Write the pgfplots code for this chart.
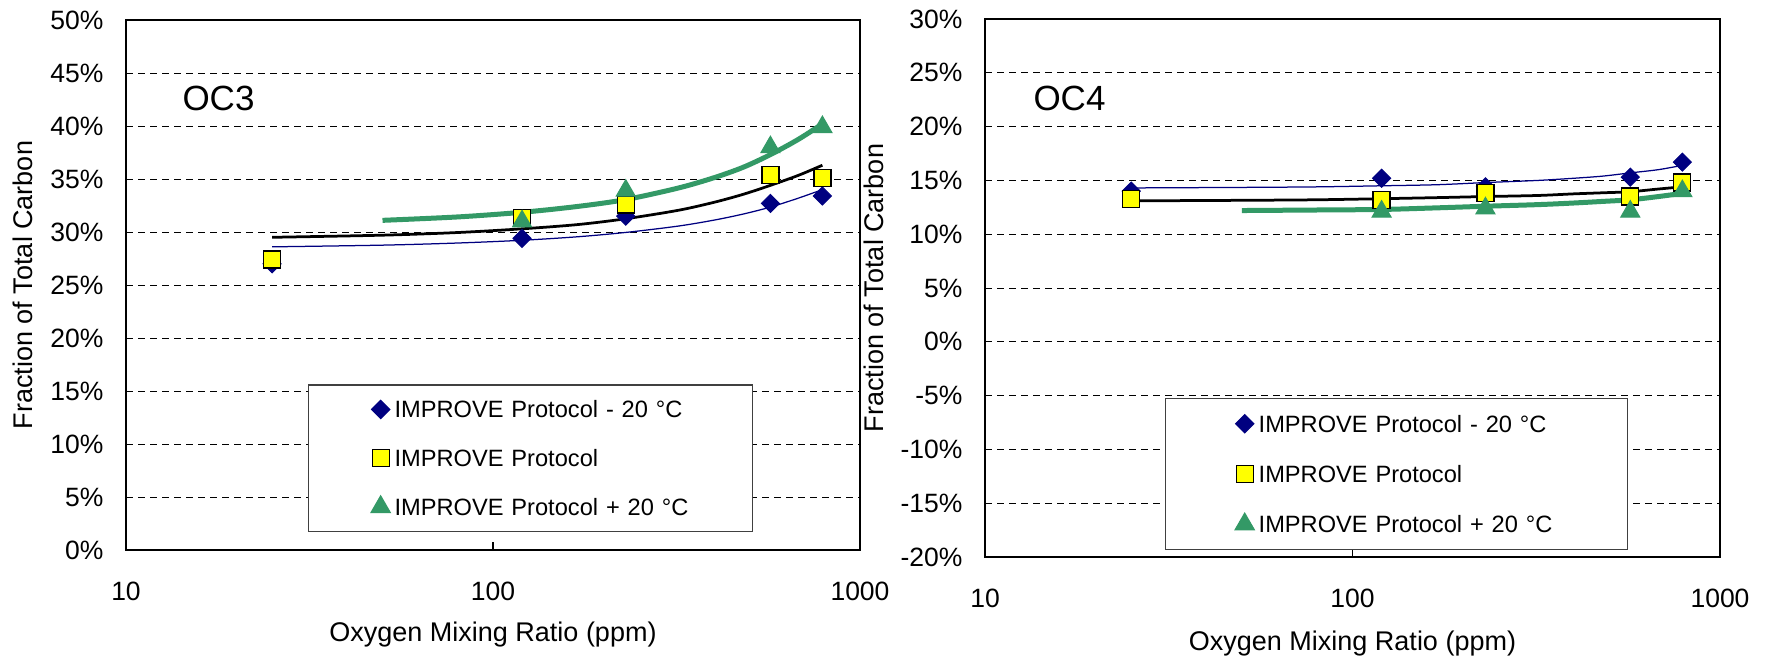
\documentclass[border=0pt]{standalone}
\usepackage{pgfplots}
\pgfplotsset{compat=1.18}
\usepackage{fontspec}
\setmainfont{Liberation Sans}
\definecolor{navy}{HTML}{000080}
\definecolor{exgreen}{HTML}{339966}
\definecolor{exyellow}{HTML}{FFFF00}

\begin{document}
\begin{tikzpicture}
\path[use as bounding box] (0pt,0pt) rectangle (707.2pt,262.8pt);

% ---------------- OC3 ----------------
\begin{axis}[
  scale only axis,
  xmode=log, xmin=10, xmax=1000,
  xtick={10,100,1000}, xticklabels={10,100,1000},
  xminorticks=false, yminorticks=false,
  tick align=inside, major tick length=3.2pt,
  xtick pos=bottom, ytick pos=left,
  ytick style={draw=none},
  xtick style={black, line width=0.5pt},
  axis line style={black, line width=0.6pt},
  ymajorgrids,
  grid style={black, line width=0.4pt, dash pattern=on 2.8pt off 2pt},
  tick label style={font=\fontsize{10.6}{12}\selectfont},
  yticklabel style={anchor=east, inner sep=0pt, xshift=-8.8pt},
  xticklabel style={anchor=center, inner sep=0pt, yshift=-16.4pt},
  label style={font=\fontsize{10.8}{13}\selectfont},
  xlabel={Oxygen Mixing Ratio (ppm)},
  ylabel={Fraction of Total Carbon},
  at={(50.4pt,42.8pt)}, anchor=south west,
  width=293.6pt, height=212pt,
  ymin=0, ymax=50,
  ytick={0,5,10,15,20,25,30,35,40,45,50},
  yticklabels={0\%,5\%,10\%,15\%,20\%,25\%,30\%,35\%,40\%,45\%,50\%},
  xlabel style={at={(axis description cs:0.5,-0.1604)}, anchor=center},
  ylabel style={at={(axis description cs:-0.1403,0.5)}, anchor=center},
  legend image code/.code={
    \path[draw=none, fill=none] (0pt,0pt) -- (34.4pt,0pt);
    \draw[#1] plot coordinates {(28.8pt,0pt)};
  },
  legend style={at={(0.248,0.034)}, anchor=south west, draw=black!75, line width=0.5pt, fill=white,
    inner xsep=0pt, inner ysep=0pt, row sep=0pt, column sep=0pt, cells={anchor=west},
    nodes={inner sep=0pt, text width=143.2pt, text height=13.13pt, text depth=6.37pt, font=\fontsize{9.45}{11}\selectfont}},
]
\addplot[only marks, navy, mark=square*, mark size=2.55pt, mark options={rotate=45, fill=navy, draw=navy}]
  coordinates {(25,27.0) (120,29.4) (230,31.5) (570,32.7) (790,33.4)};
\addlegendentry{IMPROVE Protocol - 20 °C}
\addplot[only marks, black, mark=square*, mark size=3.4pt, mark options={fill=exyellow, draw=black, line width=0.5pt}]
  coordinates {(25,27.4) (120,31.3) (230,32.6) (570,35.4) (790,35.1)};
\addlegendentry{IMPROVE Protocol}
\addplot[only marks, exgreen, mark=triangle*, mark size=4.4pt, mark options={fill=exgreen, draw=exgreen}]
  coordinates {(120,31.0) (230,33.9) (570,38.0) (790,39.9)};
\addlegendentry{IMPROVE Protocol + 20 °C}
\addplot[navy, line width=0.5pt, smooth, no marks, forget plot] coordinates {(25,28.6) (50,28.76) (80,28.96) (120,29.22) (170,29.55) (230,29.96) (320,30.56) (400,31.12) (480,31.69) (570,32.35) (680,33.2) (790,34.0)};
\addplot[black, line width=1.1pt, smooth, no marks, forget plot] coordinates {(25,29.5) (50,29.7) (80,29.95) (120,30.3) (170,30.7) (230,31.25) (320,32.05) (400,32.8) (480,33.55) (570,34.4) (680,35.35) (790,36.3)};
\addplot[exgreen, line width=2pt, smooth, no marks, forget plot] coordinates {(50,31.1) (80,31.42) (120,31.86) (170,32.41) (230,33.06) (320,34.15) (400,35.12) (480,36.1) (570,37.3) (680,38.75) (790,40.2)};
\node[anchor=west, inner sep=0pt, font=\fontsize{14}{16}\selectfont] at (rel axis cs:0.0763,0.852) {OC3};
\end{axis}

% ---------------- OC4 ----------------
\begin{axis}[
  scale only axis,
  xmode=log, xmin=10, xmax=1000,
  xtick={10,100,1000}, xticklabels={10,100,1000},
  xminorticks=false, yminorticks=false,
  tick align=inside, major tick length=3.2pt,
  xtick pos=bottom, ytick pos=left,
  ytick style={draw=none},
  xtick style={black, line width=0.5pt},
  axis line style={black, line width=0.6pt},
  ymajorgrids,
  grid style={black, line width=0.4pt, dash pattern=on 2.8pt off 2pt},
  tick label style={font=\fontsize{10.6}{12}\selectfont},
  yticklabel style={anchor=east, inner sep=0pt, xshift=-8.8pt},
  xticklabel style={anchor=center, inner sep=0pt, yshift=-16.4pt},
  label style={font=\fontsize{10.8}{13}\selectfont},
  xlabel={Oxygen Mixing Ratio (ppm)},
  ylabel={Fraction of Total Carbon},
  at={(394pt,40pt)}, anchor=south west,
  width=294pt, height=215.2pt,
  ymin=-20, ymax=30,
  ytick={-20,-15,-10,-5,0,5,10,15,20,25,30},
  yticklabels={-20\%,-15\%,-10\%,-5\%,0\%,5\%,10\%,15\%,20\%,25\%,30\%},
  xlabel style={at={(axis description cs:0.5,-0.16)}, anchor=center},
  ylabel style={at={(axis description cs:-0.151,0.5)}, anchor=center},
  legend image code/.code={
    \path[draw=none, fill=none] (0pt,0pt) -- (37.2pt,0pt);
    \draw[#1] plot coordinates {(31.6pt,0pt)};
  },
  legend style={at={(0.245,0.013)}, anchor=south west, draw=black!75, line width=0.5pt, fill=white,
    inner xsep=0pt, inner ysep=0pt, row sep=0pt, column sep=0pt, cells={anchor=west},
    nodes={inner sep=0pt, text width=147.6pt, text height=13.43pt, text depth=6.67pt, font=\fontsize{9.45}{11}\selectfont}},
]
\addplot[only marks, navy, mark=square*, mark size=2.55pt, mark options={rotate=45, fill=navy, draw=navy}]
  coordinates {(25,14.0) (120,15.2) (230,14.4) (570,15.3) (790,16.7)};
\addlegendentry{IMPROVE Protocol - 20 °C}
\addplot[only marks, black, mark=square*, mark size=3.4pt, mark options={fill=exyellow, draw=black, line width=0.5pt}]
  coordinates {(25,13.3) (120,13.2) (230,13.8) (570,13.5) (790,14.8)};
\addlegendentry{IMPROVE Protocol}
\addplot[only marks, exgreen, mark=triangle*, mark size=4.4pt, mark options={fill=exgreen, draw=exgreen}]
  coordinates {(120,12.1) (230,12.4) (570,12.1) (790,14.0)};
\addlegendentry{IMPROVE Protocol + 20 °C}
\addplot[navy, line width=0.5pt, smooth, no marks, forget plot] coordinates {(25,14.3) (50,14.35) (80,14.4) (120,14.5) (170,14.6) (230,14.8) (320,15.0) (400,15.2) (480,15.4) (570,15.7) (680,16.0) (790,16.4)};
\addplot[black, line width=1.1pt, smooth, no marks, forget plot] coordinates {(25,13.1) (50,13.15) (80,13.2) (120,13.3) (170,13.4) (230,13.5) (320,13.6) (400,13.75) (480,13.85) (570,13.95) (680,14.2) (790,14.4)};
\addplot[exgreen, line width=2pt, smooth, no marks, forget plot] coordinates {(50,12.2) (80,12.25) (120,12.3) (170,12.45) (230,12.6) (320,12.75) (400,12.9) (480,13.05) (570,13.2) (680,13.5) (790,13.8)};
\node[anchor=west, inner sep=0pt, font=\fontsize{14}{16}\selectfont] at (rel axis cs:0.0653,0.853) {OC4};
\end{axis}
\end{tikzpicture}
\end{document}
